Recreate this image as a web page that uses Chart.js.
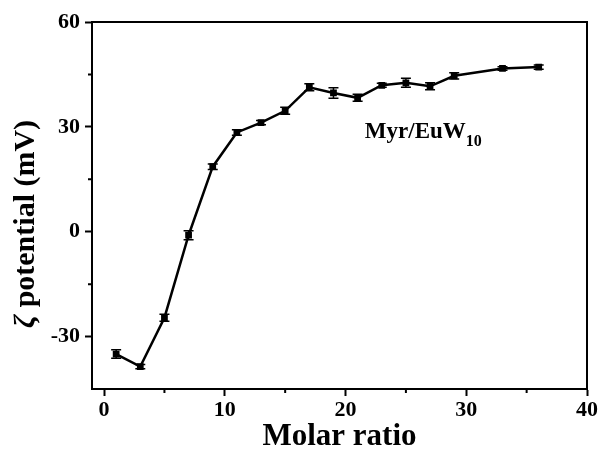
<!DOCTYPE html>
<html>
<head>
<meta charset="utf-8">
<script src="https://cdn.jsdelivr.net/npm/chart.js@4/dist/chart.umd.min.js"></script>
<style>
html, body { margin: 0; padding: 0; background: #fff; }
</style>
</head>
<body>
<canvas id="grafica" width="601" height="452"></canvas>
<script>
// datos
const ratios = [1, 3, 5, 7, 9, 11, 13, 15, 17, 19, 21, 23, 25, 27, 29, 33, 36];
const zeta = [-35, -38.6, -24.6, -1, 18.6, 28.4, 31.2, 34.6, 41.3, 39.7, 38.3, 41.9, 42.6, 41.6, 44.6, 46.7, 47.1];
const zetaErr = [1.2, 0.6, 1, 1.3, 0.8, 0.8, 0.6, 1, 1, 1.5, 1, 0.6, 1.3, 1, 0.9, 0.5, 0.6];
const xTicks = [0, 10, 20, 30, 40];
const xMinor = [5, 15, 25, 35];
const yTicks = [-30, 0, 30, 60];
const yMinor = [-15, 15, 45];

const serif = '"Liberation Serif", "Times New Roman", serif';

// barras de error, marco, ticks menores, etiqueta y titulo del eje y
const extras = {
    id: 'extras',
    afterDatasetsDraw(chart) {
        const ctx = chart.ctx;
        const x = chart.scales.x;
        const y = chart.scales.y;
        const a = chart.chartArea;
        ctx.save();
        ctx.strokeStyle = '#000';
        ctx.lineWidth = 1.5;
        for (let i = 0; i < ratios.length; i++) {
            const px = x.getPixelForValue(ratios[i]);
            const y1 = y.getPixelForValue(zeta[i] + zetaErr[i]);
            const y2 = y.getPixelForValue(zeta[i] - zetaErr[i]);
            ctx.beginPath();
            ctx.moveTo(px, y1); ctx.lineTo(px, y2);
            ctx.moveTo(px - 5, y1); ctx.lineTo(px + 5, y1);
            ctx.moveTo(px - 5, y2); ctx.lineTo(px + 5, y2);
            ctx.stroke();
        }
        ctx.lineWidth = 2;
        ctx.strokeRect(a.left, a.top, a.right - a.left, a.bottom - a.top);
        ctx.beginPath();
        xMinor.forEach(v => {
            const px = x.getPixelForValue(v);
            ctx.moveTo(px, a.bottom); ctx.lineTo(px, a.bottom + 4);
        });
        yMinor.forEach(v => {
            const py = y.getPixelForValue(v);
            ctx.moveTo(a.left, py); ctx.lineTo(a.left - 4, py);
        });
        ctx.stroke();

        ctx.fillStyle = '#000';
        ctx.textAlign = 'left';
        ctx.textBaseline = 'alphabetic';
        const lx = x.getPixelForValue(21.6);
        const ly = y.getPixelForValue(26.8);
        ctx.font = 'bold 23px ' + serif;
        ctx.fillText('Myr/EuW', lx, ly);
        const w = ctx.measureText('Myr/EuW').width;
        ctx.font = 'bold 16px ' + serif;
        ctx.fillText('10', lx + w, ly + 8);

        ctx.translate(26, 224);
        ctx.rotate(-Math.PI / 2);
        ctx.textBaseline = 'middle';
        ctx.font = 'italic bold 30px ' + serif;
        const w1 = ctx.measureText('ζ').width;
        ctx.font = 'bold 30px ' + serif;
        const w2 = ctx.measureText(' potential (mV)').width;
        let start = -(w1 + w2) / 2;
        ctx.font = 'italic bold 30px ' + serif;
        ctx.fillText('ζ', start, 0);
        ctx.font = 'bold 30px ' + serif;
        ctx.fillText(' potential (mV)', start + w1, 0);
        ctx.restore();
    }
};

let grafica1 = document.getElementById('grafica').getContext('2d');
let chart = new Chart(grafica1, {
    type: 'line',
    data: {
        datasets: [{
            label: 'Myr/EuW10',
            data: ratios.map((r, i) => ({ x: r, y: zeta[i] })),
            borderColor: '#000',
            backgroundColor: '#000',
            borderWidth: 2.5,
            pointStyle: 'rect',
            pointRadius: 3,
            tension: 0
        }]
    },
    options: {
        responsive: false,
        animation: false,
        devicePixelRatio: 1,
        layout: { padding: { top: 22, right: 14, left: 0, bottom: 0 } },
        plugins: { legend: { display: false }, tooltip: { enabled: false } },
        scales: {
            x: {
                type: 'linear',
                min: -1,
                max: 40,
                afterBuildTicks: s => { s.ticks = xTicks.map(v => ({ value: v })); },
                afterFit: s => { s.height = 63; },
                grid: { drawOnChartArea: false, tickLength: 7, tickColor: '#000', tickWidth: 2 },
                border: { color: '#000', width: 2 },
                ticks: { color: '#000', padding: 1, maxRotation: 0, font: { family: serif, size: 22, weight: 'bold' } },
                title: { display: true, text: 'Molar ratio', color: '#000', padding: 0, font: { family: serif, size: 31, weight: 'bold', lineHeight: 1.0 } }
            },
            y: {
                type: 'linear',
                min: -45,
                max: 60,
                afterBuildTicks: s => { s.ticks = yTicks.map(v => ({ value: v })); },
                afterFit: s => { s.width = 92; },
                grid: { drawOnChartArea: false, tickLength: 7, tickColor: '#000', tickWidth: 2 },
                border: { color: '#000', width: 2 },
                ticks: { color: '#000', padding: 5, font: { family: serif, size: 22, weight: 'bold' } }
            }
        }
    },
    plugins: [extras]
});
</script>
</body>
</html>
